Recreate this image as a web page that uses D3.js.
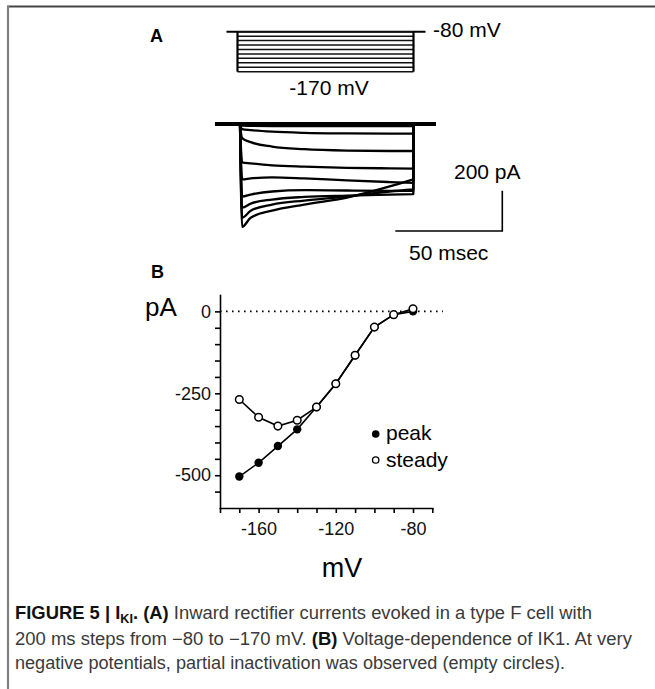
<!DOCTYPE html>
<html lang="en">
<head>
  <meta charset="UTF-8">
  <title>Figure 5 IK1</title>
  <style>
    body { margin: 0; background: #fff; }
    svg text { font-family: "Liberation Sans", Arial, sans-serif; }
    .axis path, .axis line { stroke: #000; stroke-width: 1.6; }
    .axis text { font-size: 18px; fill: #111; }
  </style>
</head>
<body>
  <script src="https://d3js.org/d3.v7.min.js"></script>
  <div id="fig"></div>
  <script>
    // step voltages (mV), -80 down to -170
    var voltages = [-170, -160, -150, -140, -130, -120, -110, -100, -90, -80];
    // panel B, current (pA) for each voltage
    var peakCurrent = [-504, -462, -411, -360, -292, -221, -134, -48, -10, 0];
    var steadyCurrent = [-269, -323, -350, -332, -292, -221, -134, -48, -10, 8];
    var yTickValues = [-550, -500, -450, -400, -350, -300, -250, -200, -150, -100, -50, 0];
    var yTickLabels = [0, -250, -500];
    var xTickValues = [-180, -170, -160, -150, -140, -130, -120, -110, -100, -90, -80, -70];
    var xTickLabels = [-160, -120, -80];

    // panel A, current traces sampled at these times (ms after step onset)
    var traceTimes = [0, 1, 5, 15, 30, 50, 70, 81];
    var traceM170 = [0, -510, -465, -430, -400, -365, -310, -275];
    var traceM160 = [0, -465, -430, -400, -380, -360, -335, -325];
    var traceM150 = [0, -415, -395, -375, -362, -355, -350, -348];
    var traceM140 = [0, -360, -350, -335, -328, -330, -332, -332];
    var traceM130 = [0, -275, -270, -265, -270, -280, -288, -292];
    var traceM120 = [0, -190, -195, -205, -212, -218, -220, -221];
    var traceM110 = [0, -70, -90, -112, -125, -132, -134, -134];
    var traceM100 = [0, -25, -30, -38, -44, -47, -48, -48];
    var traceM90 = [0, -8, -9, -10, -10, -10, -10, -10];
    var traceM80 = [0, 0, 0, 0, 0, 0, 0, 0];
    var traces = [traceM170, traceM160, traceM150, traceM140, traceM130,
      traceM120, traceM110, traceM100, traceM90, traceM80];

    var svg = d3.select("#fig").append("svg")
      .attr("width", 655)
      .attr("height", 689);

    // figure frame (top and left edge)
    svg.append("line").attr("x1", 7).attr("x2", 655).attr("y1", 6.5).attr("y2", 6.5)
      .attr("stroke", "#444").attr("stroke-width", 2);
    svg.append("line").attr("x1", 8).attr("x2", 8).attr("y1", 6).attr("y2", 689)
      .attr("stroke", "#808080").attr("stroke-width", 2.2);

    // ---------- panel A ----------
    svg.append("text").attr("x", 150).attr("y", 42)
      .style("font-weight", "bold").style("font-size", "18px").text("A");

    // voltage protocol
    var pX = d3.scaleLinear().domain([0, 81]).range([237.5, 413.5]);
    var vY = d3.scaleLinear().domain([-80, -170]).range([31.7, 71.7]);
    var prot = svg.append("g");
    prot.append("line")
      .attr("x1", pX(0) - 11).attr("x2", pX(81) + 12)
      .attr("y1", vY(-80)).attr("y2", vY(-80))
      .attr("stroke", "#000").attr("stroke-width", 2);
    prot.selectAll(".step").data(voltages).enter()
      .append("line")
      .attr("x1", pX(0)).attr("x2", pX(81))
      .attr("y1", d => vY(d)).attr("y2", d => vY(d))
      .attr("stroke", "#111").attr("stroke-width", 1.5);
    prot.selectAll(".edge").data([0, 81]).enter()
      .append("line")
      .attr("x1", d => pX(d)).attr("x2", d => pX(d))
      .attr("y1", vY(-80)).attr("y2", vY(-170))
      .attr("stroke", "#000").attr("stroke-width", 2.2);
    svg.append("text").attr("x", 433).attr("y", 36.5)
      .style("font-size", "21px").text("-80 mV");
    svg.append("text").attr("x", 329).attr("y", 95).attr("text-anchor", "middle")
      .style("font-size", "21px").text("-170 mV");

    // current traces
    var tX = d3.scaleLinear().domain([0, 81]).range([240, 413.3]);
    var iY = d3.scaleLinear().domain([0, -200]).range([124, 164.3]);
    var traceLine = d3.line()
      .x(d => tX(d[0])).y(d => iY(d[1]))
      .curve(d3.curveMonotoneX);
    var tr = svg.append("g");
    tr.selectAll(".trace").data(traces).enter()
      .append("path")
      .attr("d", d => traceLine(traceTimes.map((t, i) => [t, d[i]])) +
        "L" + tX(81) + "," + iY(0))
      .attr("fill", "none").attr("stroke", "#000")
      .attr("stroke-width", 2.3).attr("stroke-linejoin", "round");
    // holding current baseline (thick, noisy in the original)
    tr.append("line")
      .attr("x1", tX(-11.7)).attr("x2", tX(91.6))
      .attr("y1", iY(0)).attr("y2", iY(0))
      .attr("stroke", "#000").attr("stroke-width", 3.8);

    // scale bars
    var cornerX = 502.3, cornerY = 231;
    svg.append("path")
      .attr("d", "M" + (cornerX - (tX(50) - tX(0))) + "," + cornerY +
        "H" + cornerX + "V" + (cornerY - (iY(-200) - iY(0))))
      .attr("fill", "none").attr("stroke", "#000").attr("stroke-width", 1.6);
    svg.append("text").attr("x", 454).attr("y", 178.5)
      .style("font-size", "21px").text("200 pA");
    svg.append("text").attr("x", 409).attr("y", 260)
      .style("font-size", "21px").text("50 msec");

    // ---------- panel B ----------
    svg.append("text").attr("x", 151).attr("y", 278)
      .style("font-weight", "bold").style("font-size", "18px").text("B");

    var xB = d3.scaleLinear().domain([-180, -70]).range([220, 432.3]);
    var yB = d3.scaleLinear().domain([-600, 50]).range([508, 295]);

    svg.append("g").attr("class", "axis")
      .attr("transform", "translate(" + xB(-180) + ",0)")
      .call(d3.axisLeft(yB).tickValues(yTickValues).tickSize(5).tickSizeOuter(0).tickPadding(4)
        .tickFormat(d => yTickLabels.indexOf(d) >= 0 ? d : ""));
    svg.append("g").attr("class", "axis")
      .attr("transform", "translate(0," + yB(-600) + ")")
      .call(d3.axisBottom(xB).tickValues(xTickValues).tickSize(5).tickSizeOuter(0).tickPadding(9)
        .tickFormat(d => xTickLabels.indexOf(d) >= 0 ? d : ""));
    svg.selectAll(".axis .domain").attr("stroke-linecap", "square");

    // zero line
    svg.append("line")
      .attr("x1", xB(-180)).attr("x2", xB(-64.5))
      .attr("y1", yB(0)).attr("y2", yB(0))
      .attr("stroke", "#000").attr("stroke-width", 1.6)
      .attr("stroke-dasharray", "1.6,4.4");

    svg.append("text").attr("x", 145).attr("y", 316)
      .style("font-size", "26px").text("pA");
    svg.append("text").attr("x", 342).attr("y", 577).attr("text-anchor", "middle")
      .style("font-size", "27px").text("mV");

    var ivLine = d3.line().x(d => xB(d[0])).y(d => yB(d[1]));
    var peakPts = voltages.map((v, i) => [v, peakCurrent[i]]);
    var steadyPts = voltages.map((v, i) => [v, steadyCurrent[i]]);

    svg.append("path").attr("d", ivLine(peakPts))
      .attr("fill", "none").attr("stroke", "#000").attr("stroke-width", 1.6);
    svg.selectAll(".peak").data(peakPts).enter()
      .append("circle")
      .attr("cx", d => xB(d[0])).attr("cy", d => yB(d[1])).attr("r", 4.2)
      .attr("fill", "#000");

    svg.append("path").attr("d", ivLine(steadyPts))
      .attr("fill", "none").attr("stroke", "#000").attr("stroke-width", 1.6);
    svg.selectAll(".steady").data(steadyPts).enter()
      .append("circle")
      .attr("cx", d => xB(d[0])).attr("cy", d => yB(d[1])).attr("r", 3.8)
      .attr("fill", "#fff").attr("stroke", "#000").attr("stroke-width", 1.5);

    // legend
    svg.append("circle").attr("cx", 375.7).attr("cy", 434).attr("r", 3.8).attr("fill", "#000");
    svg.append("text").attr("x", 386).attr("y", 440).style("font-size", "21px").text("peak");
    svg.append("circle").attr("cx", 375.7).attr("cy", 460).attr("r", 3.2)
      .attr("fill", "#fff").attr("stroke", "#000").attr("stroke-width", 1.3);
    svg.append("text").attr("x", 386).attr("y", 466.5).style("font-size", "21px").text("steady");

    // ---------- caption ----------
    var cap = svg.append("g").style("font-size", "17.5px").style("fill", "#3a3a3a");
    var l1 = cap.append("text").attr("x", 15).attr("y", 619).attr("textLength", 577)
      .attr("lengthAdjust", "spacingAndGlyphs");
    l1.append("tspan").style("font-weight", "bold").style("fill", "#111").text("FIGURE 5 | I");
    l1.append("tspan").style("font-weight", "bold").style("fill", "#111")
      .style("font-size", "12px").attr("dy", 4).text("KI");
    l1.append("tspan").style("font-weight", "bold").style("fill", "#111").attr("dy", -4).text(". (A)");
    l1.append("tspan").text(" Inward rectifier currents evoked in a type F cell with");

    var l2 = cap.append("text").attr("x", 15).attr("y", 644.5).attr("textLength", 617)
      .attr("lengthAdjust", "spacingAndGlyphs");
    l2.append("tspan").text("200 ms steps from \u221280 to \u2212170 mV. ");
    l2.append("tspan").style("font-weight", "bold").style("fill", "#111").text("(B)");
    l2.append("tspan").text(" Voltage-dependence of IK1. At very");

    cap.append("text").attr("x", 15).attr("y", 669).attr("textLength", 550)
      .attr("lengthAdjust", "spacingAndGlyphs")
      .text("negative potentials, partial inactivation was observed (empty circles).");
  </script>
</body>
</html>
